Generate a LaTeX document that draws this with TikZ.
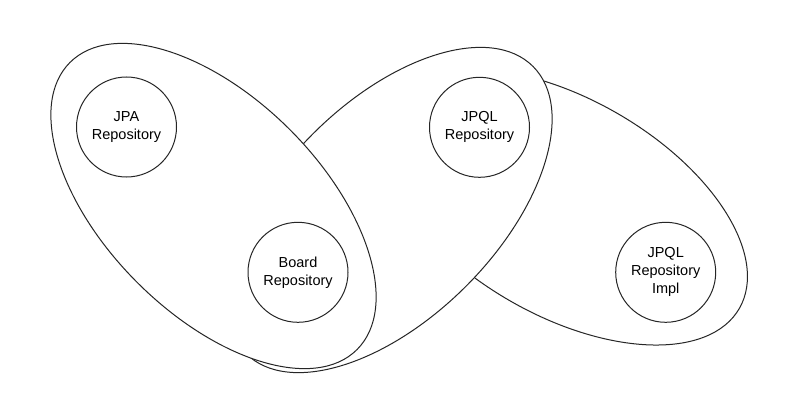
\documentclass[tikz,border=0pt]{standalone}
\usepackage{fontspec}
\setmainfont{Liberation Sans}
\usetikzlibrary{shapes.geometric}
\begin{document}
\begin{tikzpicture}[x=1pt,y=-1pt,
  grp/.style={draw=black!85,line width=1pt,fill=white,ellipse,inner sep=0pt,
    minimum width=406pt,minimum height=216pt},
  comp/.style={draw=black!85,line width=1pt,fill=white,circle,inner sep=0pt,
    minimum size=100pt,align=center,font=\fontsize{14.5}{18}\selectfont}]
\useasboundingbox[fill=white] (0,0) rectangle (808,412);
\node[grp,rotate=-30] (e3) at (563.5,207) {};
\node[grp,rotate=45] (e2) at (389.5,210) {};
\node[grp,rotate=-45] (e1) at (213.5,206) {};
\node[comp] (jpa) at (126.5,127) {JPA\\Repository};
\node[comp] (board) at (298,272.3) {Board\\Repository};
\node[comp] (jpql) at (479.5,127.3) {JPQL\\Repository};
\node[comp] (impl) at (665.7,272.3) {JPQL\\Repository\\Impl};
\end{tikzpicture}
\end{document}
